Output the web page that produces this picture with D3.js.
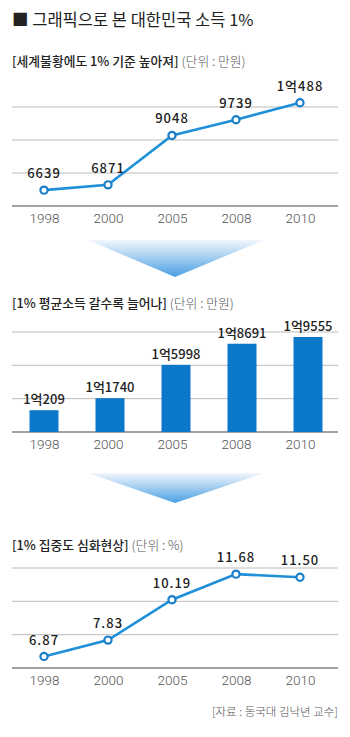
<!DOCTYPE html>
<html><head><meta charset="utf-8">
<script src="https://cdn.jsdelivr.net/npm/d3@7/dist/d3.min.js"></script>
<style>body{margin:0;background:#fff}svg{display:block}</style>
</head><body>
<script>
const years = ["1998","2000","2005","2008","2010"];
const thresholdValues = [6639, 6871, 9048, 9739, 10488];
const thresholdLabels = ["6639","6871","9048","9739","1억488"];
const avgValues = [10209, 11740, 15998, 18691, 19555];
const avgLabels = ["1억209","1억1740","1억5998","1억8691","1억9555"];
const shareValues = [6.87, 7.83, 10.19, 11.68, 11.50];
const shareLabels = ["6.87","7.83","10.19","11.68","11.50"];

const W = 350, H = 737;
const svg = d3.select("body").append("svg").attr("width", W).attr("height", H);
const defs = svg.append("defs");
const grad = defs.append("linearGradient").attr("id","ag").attr("x1",0).attr("y1",0).attr("x2",0).attr("y2",1);
grad.append("stop").attr("offset","0%").attr("stop-color","#f2f7fc");
grad.append("stop").attr("offset","100%").attr("stop-color","#4a9fe3");

const KR = "'Noto Sans CJK KR', 'Noto Sans', sans-serif";
const x = d3.scalePoint().domain(years).range([44, 300]);

svg.append("text").attr("x", 12).attr("y", 26).attr("font-family", KR)
  .attr("font-size", 16.5).attr("font-weight", 400).attr("fill", "#222")
  .text("■ 그래픽으로 본 대한민국 소득 1%");

function subtitle(y, main, unit) {
  const t = svg.append("text").attr("x", 12).attr("y", y).attr("font-family", KR).attr("font-size", 12.8);
  t.append("tspan").attr("fill", "#222").attr("font-weight", 500).text(main);
  t.append("tspan").attr("fill", "#555").attr("font-weight", 300).attr("dx", 3).text(unit);
}

function frame(base, top) {
  const g = svg.append("g");
  const step = (base - top) / 3;
  for (let i = 1; i <= 3; i++) {
    g.append("line").attr("x1", 12).attr("x2", 338).attr("y1", base - i * step).attr("y2", base - i * step)
      .attr("stroke", "#bdbdbd").attr("stroke-width", 1);
  }
  g.append("line").attr("x1", 12).attr("x2", 338).attr("y1", base).attr("y2", base)
    .attr("stroke", "#444").attr("stroke-width", 1.2);
  const ax = d3.axisBottom(x).tickSize(0).tickPadding(7);
  const a = g.append("g").attr("transform", `translate(0,${base})`).call(ax);
  a.select(".domain").remove();
  a.selectAll("text").attr("font-family", "Roboto, sans-serif").attr("font-weight", 300)
    .attr("font-size", 13.5).attr("fill", "#555");
}

function lineChart(values, labels, y) {
  const line = d3.line().x((d, i) => x(years[i])).y(d => y(d));
  svg.append("path").datum(values).attr("d", line).attr("fill", "none")
    .attr("stroke", "#1f8fd8").attr("stroke-width", 2.6);
  svg.selectAll(null).data(values).enter().append("circle")
    .attr("cx", (d, i) => x(years[i])).attr("cy", d => y(d)).attr("r", 3.6)
    .attr("fill", "#fff").attr("stroke", "#1a7fc8").attr("stroke-width", 2.2);
  svg.selectAll(null).data(values).enter().append("text")
    .attr("x", (d, i) => x(years[i])).attr("y", d => y(d) - 12)
    .attr("text-anchor", "middle").attr("font-family", KR).attr("font-size", 13)
    .attr("font-weight", 500).attr("letter-spacing", 1).attr("fill", "#222")
    .text((d, i) => labels[i]);
}

function arrow(top, tip) {
  svg.append("path").attr("d", `M88,${top} L264,${top} L175,${tip} Z`).attr("fill", "url(#ag)");
}

// Chart 1
subtitle(66, "[세계불황에도 1% 기준 높아져]", "(단위 : 만원)");
frame(206, 107);
const y1 = d3.scaleLinear().domain([5940, 10300]).range([206, 107]);
lineChart(thresholdValues, thresholdLabels, y1);

arrow(240, 277);

// Chart 2
subtitle(308, "[1% 평균소득 갈수록 늘어나]", "(단위 : 만원)");
frame(432, 332);
const y2 = d3.scaleLinear().domain([7430, 20190]).range([432, 332]);
svg.selectAll(null).data(avgValues).enter().append("rect")
  .attr("x", (d, i) => x(years[i]) - 14.5 + i * 2).attr("width", 29)
  .attr("y", d => y2(d)).attr("height", d => 432 - y2(d)).attr("fill", "#0b78c9");
svg.selectAll(null).data(avgValues).enter().append("text")
  .attr("x", (d, i) => x(years[i]) + i * 2).attr("y", d => y2(d) - 6)
  .attr("text-anchor", "middle").attr("font-family", KR).attr("font-size", 13)
  .attr("font-weight", 500).attr("fill", "#222")
  .text((d, i) => avgLabels[i]);

arrow(473, 503);

// Chart 3
subtitle(550, "[1% 집중도 심화현상]", "(단위 : %)");
frame(668, 568);
const y3 = d3.scaleLinear().domain([6.2, 12.04]).range([668, 568]);
lineChart(shareValues, shareLabels, y3);

svg.append("text").attr("x", 338).attr("y", 716).attr("text-anchor", "end")
  .attr("font-family", KR).attr("font-size", 11.5).attr("font-weight", 300).attr("fill", "#555")
  .text("[자료 : 동국대 김낙년 교수]");
</script>
</body></html>
